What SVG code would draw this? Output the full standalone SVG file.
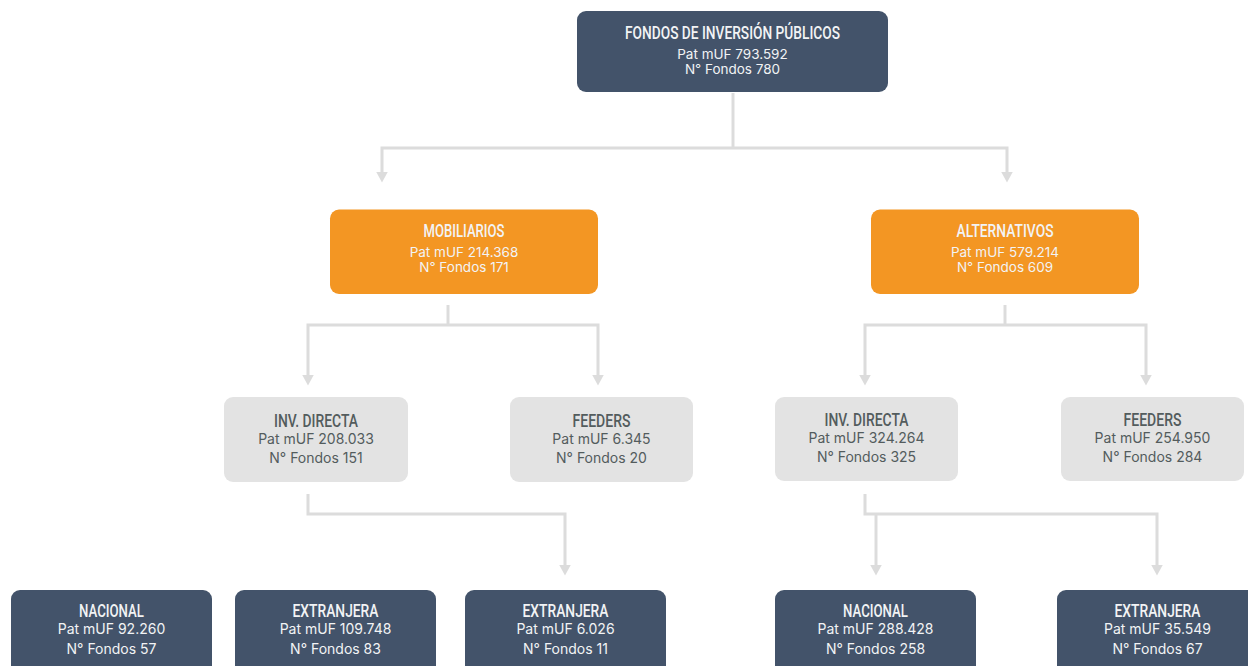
<svg xmlns="http://www.w3.org/2000/svg" width="1248" height="666" viewBox="0 0 1248 666">
<defs>
<marker id="arr" viewBox="0 0 11 12" markerWidth="11" markerHeight="12" refX="0.5" refY="6" orient="auto-start-reverse" markerUnits="userSpaceOnUse">
<path d="M0,0 L11,6 L0,12 z" fill="#DCDCDC"/>
</marker>
<style>
.dark{fill:#43536A}
.orange{fill:#F39623}
.gray{fill:#E3E3E3}
.t{font-family:Roboto,"Liberation Sans",sans-serif;font-weight:500;font-size:18px;text-anchor:middle}
.s{font-family:Inter,"Noto Sans",sans-serif;font-size:14px;text-anchor:middle}
.s2{font-family:Inter,"Noto Sans",sans-serif;font-size:13.5px;text-anchor:middle}
.w{fill:#F2F3F5}
.g{fill:#535C5D}
.c{fill:none;stroke:#DCDCDC;stroke-width:3}
</style>
</defs>
<g id="connectors">
<path class="c" d="M733,93 V148"/>
<path class="c" d="M382,172 V148 H1007 V172" marker-start="url(#arr)" marker-end="url(#arr)"/>
<path class="c" d="M448,305 V325"/>
<path class="c" d="M308,375 V325 H598 V375" marker-start="url(#arr)" marker-end="url(#arr)"/>
<path class="c" d="M1005,305 V325"/>
<path class="c" d="M865,375 V325 H1146 V375" marker-start="url(#arr)" marker-end="url(#arr)"/>
<path class="c" d="M308,494 V514 H565 V565" marker-end="url(#arr)"/>
<path class="c" d="M865,494 V514 H1157 V565" marker-end="url(#arr)"/>
<path class="c" d="M876,514 V565" marker-end="url(#arr)"/>
</g>
<g id="fondos">
<rect class="dark" x="577" y="11" width="311" height="81" rx="9"/>
<text class="t w" x="732.5" y="39" textLength="215" lengthAdjust="spacingAndGlyphs">FONDOS DE INVERSIÓN PÚBLICOS</text>
<text class="s2 w" x="732.5" y="59">Pat mUF 793.592</text>
<text class="s2 w" x="732.5" y="74">N° Fondos 780</text>
</g>
<g id="mobiliarios">
<rect class="orange" x="330" y="209.5" width="268" height="84.5" rx="9"/>
<text class="t w" x="464" y="237" textLength="81" lengthAdjust="spacingAndGlyphs">MOBILIARIOS</text>
<text class="s2 w" x="464" y="257">Pat mUF 214.368</text>
<text class="s2 w" x="464" y="272">N° Fondos 171</text>
</g>
<g id="alternativos">
<rect class="orange" x="871" y="209.5" width="268" height="84.5" rx="9"/>
<text class="t w" x="1005" y="237" textLength="97" lengthAdjust="spacingAndGlyphs">ALTERNATIVOS</text>
<text class="s2 w" x="1005" y="257">Pat mUF 579.214</text>
<text class="s2 w" x="1005" y="272">N° Fondos 609</text>
</g>
<g id="mob-inv-directa">
<rect class="gray" x="224" y="397" width="184" height="85" rx="9"/>
<text class="t g" x="316" y="427" textLength="84" lengthAdjust="spacingAndGlyphs">INV. DIRECTA</text>
<text class="s g" x="316" y="444">Pat mUF 208.033</text>
<text class="s g" x="316" y="463">N° Fondos 151</text>
</g>
<g id="mob-feeders">
<rect class="gray" x="510" y="397" width="183" height="85" rx="9"/>
<text class="t g" x="601.5" y="427" textLength="58" lengthAdjust="spacingAndGlyphs">FEEDERS</text>
<text class="s g" x="601.5" y="444">Pat mUF 6.345</text>
<text class="s g" x="601.5" y="463">N° Fondos 20</text>
</g>
<g id="alt-inv-directa">
<rect class="gray" x="775" y="397" width="183" height="84" rx="9"/>
<text class="t g" x="866.5" y="426" textLength="84" lengthAdjust="spacingAndGlyphs">INV. DIRECTA</text>
<text class="s g" x="866.5" y="443">Pat mUF 324.264</text>
<text class="s g" x="866.5" y="462">N° Fondos 325</text>
</g>
<g id="alt-feeders">
<rect class="gray" x="1061" y="397" width="183" height="84" rx="9"/>
<text class="t g" x="1152.5" y="426" textLength="58" lengthAdjust="spacingAndGlyphs">FEEDERS</text>
<text class="s g" x="1152.5" y="443">Pat mUF 254.950</text>
<text class="s g" x="1152.5" y="462">N° Fondos 284</text>
</g>
<g id="mob-nacional">
<rect class="dark" x="11" y="590" width="201" height="90" rx="9"/>
<text class="t w" x="111.5" y="617" textLength="65" lengthAdjust="spacingAndGlyphs">NACIONAL</text>
<text class="s w" x="111.5" y="634">Pat mUF 92.260</text>
<text class="s w" x="111.5" y="654">N° Fondos 57</text>
</g>
<g id="mob-extranjera">
<rect class="dark" x="235" y="590" width="201" height="90" rx="9"/>
<text class="t w" x="335.5" y="617" textLength="86" lengthAdjust="spacingAndGlyphs">EXTRANJERA</text>
<text class="s w" x="335.5" y="634">Pat mUF 109.748</text>
<text class="s w" x="335.5" y="654">N° Fondos 83</text>
</g>
<g id="feeders-extranjera">
<rect class="dark" x="465" y="590" width="201" height="90" rx="9"/>
<text class="t w" x="565.5" y="617" textLength="86" lengthAdjust="spacingAndGlyphs">EXTRANJERA</text>
<text class="s w" x="565.5" y="634">Pat mUF 6.026</text>
<text class="s w" x="565.5" y="654">N° Fondos 11</text>
</g>
<g id="alt-nacional">
<rect class="dark" x="775" y="590" width="201" height="90" rx="9"/>
<text class="t w" x="875.5" y="617" textLength="65" lengthAdjust="spacingAndGlyphs">NACIONAL</text>
<text class="s w" x="875.5" y="634">Pat mUF 288.428</text>
<text class="s w" x="875.5" y="654">N° Fondos 258</text>
</g>
<g id="alt-extranjera">
<rect class="dark" x="1057" y="590" width="201" height="90" rx="9"/>
<text class="t w" x="1157.5" y="617" textLength="86" lengthAdjust="spacingAndGlyphs">EXTRANJERA</text>
<text class="s w" x="1157.5" y="634">Pat mUF 35.549</text>
<text class="s w" x="1157.5" y="654">N° Fondos 67</text>
</g>
</svg>
